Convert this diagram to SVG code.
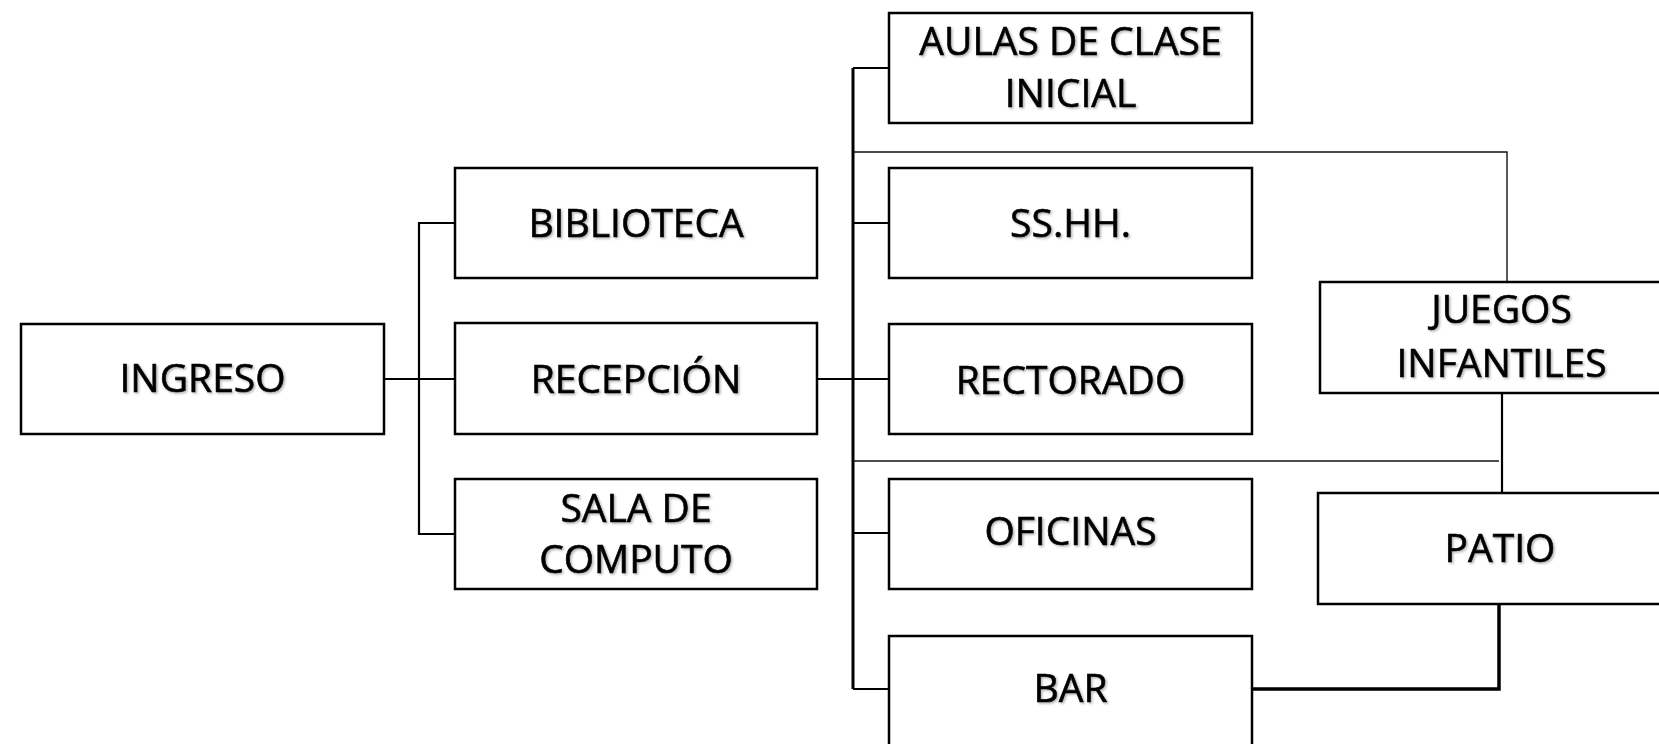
<svg xmlns="http://www.w3.org/2000/svg" width="1659" height="744" viewBox="0 0 1659 744">
<style>
.box{fill:#fff;stroke:#000;stroke-width:2.5}
.lbl{font-family:"Open Sans","Noto Sans","Liberation Sans",sans-serif;font-size:39px;fill:#000;stroke:#000;stroke-width:0.6;text-anchor:middle;filter:url(#sh)}
.c{fill:none;stroke:#000;stroke-width:2.2}
.thin{fill:none;stroke:#111;stroke-width:1.4}
.thick{fill:none;stroke:#000;stroke-width:3.5}
</style>
<defs>
<filter id="sh" x="-10%" y="-20%" width="130%" height="150%">
<feDropShadow dx="1.5" dy="1.5" stdDeviation="1" flood-color="#000" flood-opacity="0.3"/>
</filter>
</defs>
<rect width="1659" height="744" fill="#fff"/>
<g id="connectors">
<path class="c" d="M384 379H455"/>
<path class="c" d="M455 223H419V534H455"/>
<path class="c" d="M817 379H853"/>
<path class="c" d="M853 68V689" style="stroke-width:3"/>
<path class="c" d="M853 68H889M853 223H889M853 379H889M853 533H889M853 689H889"/>
<path class="thin" d="M853 152H1507V282"/>
<path class="thin" d="M853 461H1499"/>
<path class="c" d="M1502 393V493"/>
<path class="thick" d="M1252 689H1499V604"/>
</g>
<g id="ingreso"><rect class="box" x="21" y="324" width="363" height="110"/><text class="lbl" x="202.5" y="392">INGRESO</text></g>
<g id="biblioteca"><rect class="box" x="455" y="168" width="362" height="110"/><text class="lbl" x="636" y="237">BIBLIOTECA</text></g>
<g id="recepcion"><rect class="box" x="455" y="323" width="362" height="111"/><text class="lbl" x="636" y="393">RECEPCIÓN</text></g>
<g id="sala"><rect class="box" x="455" y="479" width="362" height="110"/><text class="lbl" x="636" y="522">SALA DE</text><text class="lbl" x="636" y="573">COMPUTO</text></g>
<g id="aulas"><rect class="box" x="889" y="13" width="363" height="110"/><text class="lbl" x="1070.5" y="55">AULAS DE CLASE</text><text class="lbl" x="1070.5" y="107">INICIAL</text></g>
<g id="sshh"><rect class="box" x="889" y="168" width="363" height="110"/><text class="lbl" x="1070.5" y="237">SS.HH.</text></g>
<g id="rectorado"><rect class="box" x="889" y="324" width="363" height="110"/><text class="lbl" x="1070.5" y="394">RECTORADO</text></g>
<g id="oficinas"><rect class="box" x="889" y="479" width="363" height="110"/><text class="lbl" x="1070.5" y="545">OFICINAS</text></g>
<g id="bar"><rect class="box" x="889" y="636" width="363" height="110"/><text class="lbl" x="1070.5" y="702">BAR</text></g>
<g id="juegos"><rect class="box" x="1320" y="282" width="363" height="111"/><text class="lbl" x="1501.5" y="323">JUEGOS</text><text class="lbl" x="1501.5" y="377">INFANTILES</text></g>
<g id="patio"><rect class="box" x="1318" y="493" width="363" height="111"/><text class="lbl" x="1500" y="562">PATIO</text></g>
</svg>
